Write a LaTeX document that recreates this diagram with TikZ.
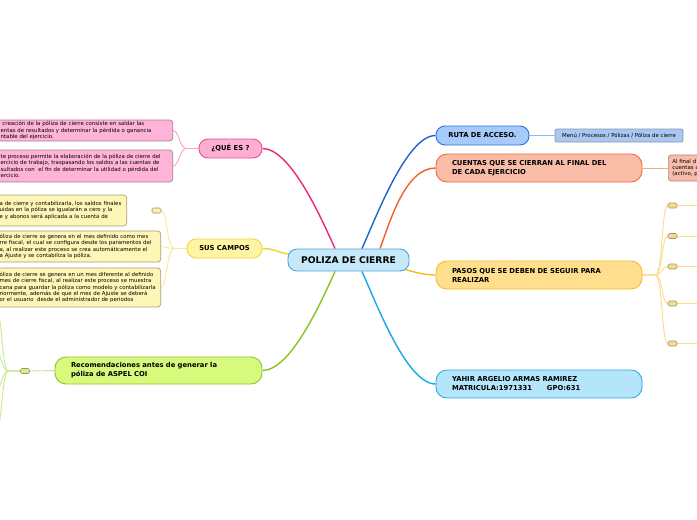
\documentclass[tikz,border=0pt]{standalone}
\usepackage{fontspec}
\setmainfont{DejaVu Sans}
\usetikzlibrary{calc}
\definecolor{cfill}{HTML}{C6E9FA}\definecolor{cdraw}{HTML}{4FA2DE}
\definecolor{pinkfill}{HTML}{FFAED3}\definecolor{pinkdraw}{HTML}{EC4D93}\definecolor{pinkline}{HTML}{F0247F}
\definecolor{yelfill}{HTML}{FFF5A3}\definecolor{yeldraw}{HTML}{F2D53C}\definecolor{yelline}{HTML}{F3D22F}
\definecolor{grnfill}{HTML}{D7F97C}\definecolor{grndraw}{HTML}{8CC43A}\definecolor{grnline}{HTML}{8DC21F}
\definecolor{rutafill}{HTML}{A6CBFB}\definecolor{rutadraw}{HTML}{2B72DA}\definecolor{rutaline}{HTML}{1E63D0}
\definecolor{menufill}{HTML}{A9C7F2}\definecolor{menudraw}{HTML}{8B97A8}
\definecolor{ctafill}{HTML}{F9BCA6}\definecolor{ctadraw}{HTML}{F46A3C}\definecolor{ctaline}{HTML}{F0602A}
\definecolor{pasfill}{HTML}{FFDE8D}\definecolor{pasdraw}{HTML}{F8BC2A}\definecolor{pasline}{HTML}{F8B820}
\definecolor{yahfill}{HTML}{B4E5FB}\definecolor{yahdraw}{HTML}{2DABEA}\definecolor{yahline}{HTML}{18A8E8}
\definecolor{lpinkfill}{HTML}{FFB4D7}\definecolor{lpinkdraw}{HTML}{A2818F}
\definecolor{lyelfill}{HTML}{FEF6B6}\definecolor{lyeldraw}{HTML}{A9A078}
\definecolor{affill}{HTML}{F8BCA8}\definecolor{afdraw}{HTML}{A08A82}
\definecolor{tpink}{HTML}{FF9FCB}\definecolor{tyel}{HTML}{FCEA8E}\definecolor{tgrn}{HTML}{C7EC8C}
\definecolor{tpas}{HTML}{FDDB90}\definecolor{truta}{HTML}{8DBBF3}\definecolor{tcta}{HTML}{F7AA90}
\definecolor{ytabfill}{HTML}{FEF0A8}\definecolor{gtabfill}{HTML}{D0F37B}\definecolor{ptabfill}{HTML}{FAD98E}
\definecolor{tabdraw}{HTML}{9A9480}
\pgfdeclarelayer{bg}\pgfsetlayers{bg,main}
\begin{document}
\begin{tikzpicture}[x=1pt,y=-1pt,
  topic/.style={rounded corners=9pt, line width=0.9pt, inner sep=0pt,
    font=\bfseries\fontsize{6.8}{9}\selectfont},
  ltopic/.style={topic, rounded corners=11pt, align=left, inner xsep=16pt, inner ysep=0pt},
  leaf/.style={rounded corners=3pt, line width=0.7pt, align=left, inner xsep=4pt, inner ysep=0pt,
    font=\fontsize{5.4}{6.3}\selectfont},
  tab/.style={rounded corners=1.5pt, line width=0.6pt, draw=tabdraw, minimum width=9pt,
    minimum height=5pt, inner sep=0pt},
  mainline/.style={line width=1.4pt},
  thinline/.style={line width=0.9pt}]
\useasboundingbox (0,0) rectangle (697,520);

% central
\node[topic, fill=cfill, draw=cdraw, minimum width=121pt, minimum height=22pt,
  font=\bfseries\fontsize{9.2}{11}\selectfont] (c) at (348.5,260) {POLIZA DE CIERRE};

% left main topics
\node[topic, fill=pinkfill, draw=pinkdraw, minimum width=63pt, minimum height=19pt] (qe) at (230.5,148.5) {¿QUÉ ES ?};
\node[topic, fill=yelfill, draw=yeldraw, minimum width=75pt, minimum height=19pt] (sus) at (224.5,248.5) {SUS CAMPOS};
\node[ltopic, fill=grnfill, draw=grndraw, text width=175pt, minimum height=27pt] (rec) at (158.5,370.5)
  {Recomendaciones antes de generar la\\póliza de ASPEL COI};

% right main topics
\node[topic, fill=rutafill, draw=rutadraw, minimum width=93pt, minimum height=19pt] (ruta) at (482.5,135.5) {RUTA DE ACCESO.};
\node[ltopic, fill=ctafill, draw=ctadraw, text width=174pt, minimum height=28pt] (cta) at (539,168)
  {CUENTAS QUE SE CIERRAN AL FINAL DEL\\DE CADA EJERCICIO};
\node[ltopic, fill=pasfill, draw=pasdraw, text width=174pt, minimum height=28pt] (pas) at (539,275)
  {PASOS QUE SE DEBEN DE SEGUIR PARA\\REALIZAR};
\node[ltopic, fill=yahfill, draw=yahdraw, text width=174pt, minimum height=28pt] (yah) at (539,384)
  {YAHIR ARGELIO ARMAS RAMIREZ\\MATRICULA:1971331\hspace*{15pt}GPO:631};

% leaves
\node[leaf, fill=menufill, draw=menudraw, rounded corners=2pt, minimum width=128pt, minimum height=13pt, align=center] (menu) at (619,135.5)
  {Menú / Procesos / Pólizas / Póliza de cierre};
\node[leaf, fill=affill, draw=afdraw, anchor=west, text width=60pt, minimum height=26pt] (af) at (668,168)
  {Al final d\\cuentas c\\(activo, p};

\node[leaf, fill=lpinkfill, draw=lpinkdraw, anchor=east, text width=168pt, minimum height=21pt] (p1) at (173,130.5)
  {\ creación de la póliza de cierre consiste en saldar las\\entas de resultados y determinar la pérdida o ganancia\\ntable del ejercicio.};
\node[leaf, fill=lpinkfill, draw=lpinkdraw, anchor=east, text width=168pt, minimum height=32pt] (p2) at (173,166)
  {te proceso permite la elaboración de la póliza de cierre del\\ercicio de trabajo, traspasando los saldos a las cuentas de\\sultados con \ el fin de determinar la utilidad o pérdida del\\ercicio.};

\node[leaf, fill=lyelfill, draw=lyeldraw, anchor=east, text width=123pt, minimum height=31pt] (ya) at (127,210.5)
  {a de cierre y contabilizarla, los saldos finales\\uidas en la póliza se igualarán a cero y la\\e y abonos será aplicada a la cuenta de};
\node[leaf, fill=lyelfill, draw=lyeldraw, anchor=east, text width=157pt, minimum height=31pt] (yb) at (161,246.5)
  {óliza de cierre se genera en el mes definido como mes\\rre fiscal, el cual se configura desde los paramentos del\\a, al realizar este proceso se crea automáticamente el\\a Ajuste y se contabiliza la póliza.};
\node[leaf, fill=lyelfill, draw=lyeldraw, anchor=east, text width=157pt, minimum height=39pt] (yc) at (161,287.5)
  {óliza de cierre se genera en un mes diferente al definido\\mes de cierre fiscal, al realizar este proceso se muestra\\cana para guardar la póliza como modelo y contabilizarla\\riormente, además de que el mes de Ajuste se deberá\\or el usuario \ desde el administrador de periodos};

% tabs
\node[tab, fill=ytabfill] (yt) at (156.5,210.5) {};
\node[tab, fill=gtabfill] (gt) at (25,371) {};
\node[tab, fill=ptabfill] (t1) at (672.5,205.5) {};
\node[tab, fill=ptabfill] (t2) at (672.5,236) {};
\node[tab, fill=ptabfill] (t3) at (672.5,266.5) {};
\node[tab, fill=ptabfill] (t4) at (672.5,303.5) {};
\node[tab, fill=ptabfill] (t5) at (672.5,343.5) {};

% free ends
\coordinate (e1) at (700,205.5);
\coordinate (e2) at (700,236);
\coordinate (e3) at (700,266.5);
\coordinate (e4) at (700,303.5);
\coordinate (e5) at (700,343.5);
\coordinate (g1) at (-2,316);
\coordinate (g2) at (-4,350);
\coordinate (g3) at (-4,392);
\coordinate (g4) at (-2,424);

\begin{pgfonlayer}{bg}
\fill[white] (0,0) rectangle (697,520);
% main connectors
\draw[mainline, pinkline] ($(c.north)+(-13.5,0)$) .. controls (320,215) and (290,148.5) .. (qe.east);
\draw[mainline, rutaline] ($(c.north)+(13.5,0)$) .. controls (377,215) and (407,135.5) .. (ruta.west);
\draw[mainline, ctaline] ($(c.north)+(31.5,0)$) .. controls (390,222) and (405,168) .. (cta.west);
\draw[mainline, yelline] (sus.east) .. controls (275,248.5) and (278,253) .. ($(c.west)+(2,-6)$);
\draw[mainline, grnline] ($(c.south)+(-13.5,0)$) .. controls (320,305) and (290,370.5) .. (rec.east);
\draw[mainline, yahline] ($(c.south)+(13.5,0)$) .. controls (377,305) and (407,384) .. (yah.west);
\draw[mainline, pasline] ($(c.east)+(-6,9)$) .. controls (418,273) and (425,275) .. (pas.west);
% thin connectors
\draw[thinline, truta] (ruta.east) -- (menu.west);
\draw[thinline, tcta] (cta.east) -- (af.west);
\draw[thinline, tpink] (qe.west) -- ++(-12,0) .. controls +(-7,0) and +(6,0) .. (p1.east);
\draw[thinline, tpink] (qe.west) -- ++(-12,0) .. controls +(-7,0) and +(6,0) .. (p2.east);
\draw[thinline, tyel] (sus.west) -- ++(-12,0) .. controls +(-8,0) and +(6,0) .. (yt.east);
\draw[thinline, tyel] (sus.west) -- ++(-12,0) .. controls +(-7,0) and +(6,0) .. (yb.east);
\draw[thinline, tyel] (sus.west) -- ++(-12,0) .. controls +(-8,0) and +(6,0) .. (yc.east);
\draw[thinline, tgrn] (rec.west) -- (gt.east);
\foreach \g in {g1,g2,g3,g4}
  \draw[thinline, tgrn] (gt.west) -- ++(-12,0) .. controls +(-6,0) and +(4,0) .. (\g);
\foreach \t/\e in {t1/e1,t2/e2,t3/e3,t4/e4,t5/e5} {
  \draw[thinline, tpas] (pas.east) -- ++(13,0) .. controls +(7,0) and +(-6,0) .. (\t.west);
  \draw[thinline, tpas] (\t.east) -- (\e);
}
\end{pgfonlayer}
\end{tikzpicture}
\end{document}
